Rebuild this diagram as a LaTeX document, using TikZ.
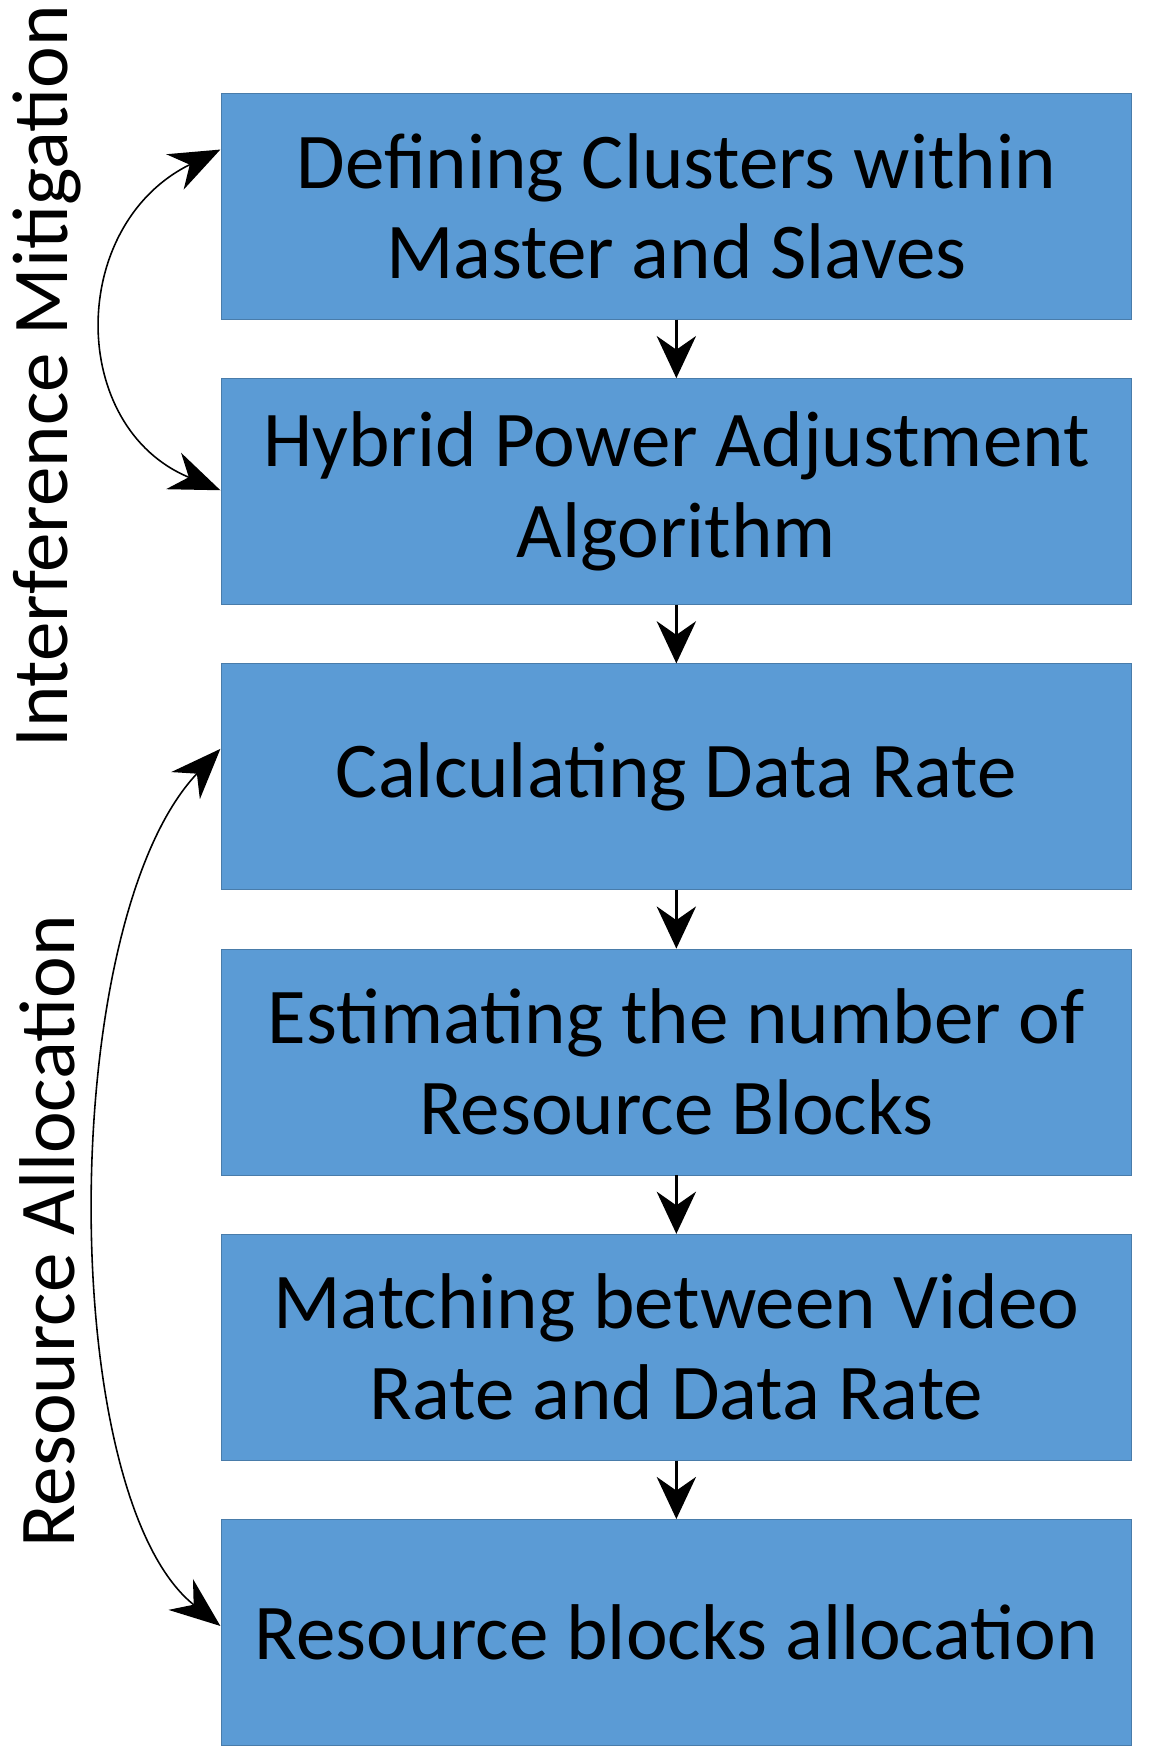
\documentclass[tikz,border=0pt]{standalone}
\usepackage{fontspec}
\setmainfont{Carlito}
\usetikzlibrary{positioning}
\usetikzlibrary{arrows.meta}
\definecolor{stepblue}{HTML}{5B9BD5}
\tikzset {
  stepbox/.style = {
    draw = stepblue!80!black,
    fill = stepblue,
    rectangle,
    minimum width = 16.18cm,
    minimum height = 4.02cm,
    align = center,
    font = \fontsize{40}{46}\selectfont,
    inner sep = 0
  },
  side/.style = {
    rotate = 90,
    font = \fontsize{40}{46}\selectfont
  },
  % straight arrow between steps
  arr/.style = {
    draw = black,
    very thick,
    -{Stealth[length=0.75cm,width=0.7cm]}
  },
  % curved double arrow for the groups
  grp/.style = {
    draw = black,
    thick,
    {Stealth[length=0.9cm,width=0.7cm]}-{Stealth[length=0.9cm,width=0.7cm]}
  },
  node distance = 1.04cm
}
\begin{document}
\begin{tikzpicture}[x=0.02cm,y=-0.02cm]
  \useasboundingbox (0,0) rectangle (1024,1567);
  \node[stepbox] (clusters) at (601.5,183.5) {Defining Clusters within\\Master and Slaves};
  \node[stepbox] (power) [below=of clusters] {Hybrid Power Adjustment\\Algorithm};
  \node[stepbox] (rate) [below=of power] {Calculating Data Rate};
  \node[stepbox] (blocks) [below=of rate] {Estimating the number of\\Resource Blocks};
  \node[stepbox] (match) [below=of blocks] {Matching between Video\\Rate and Data Rate};
  \node[stepbox] (alloc) [below=of match] {Resource blocks allocation};

  \node[side] (interf) at (42,335) {Interference Mitigation};
  \node[side] (resalloc) at (42,1095) {Resource Allocation};

  \draw[arr] (clusters) -- (power);
  \draw[arr] (power) -- (rate);
  \draw[arr] (rate) -- (blocks);
  \draw[arr] (blocks) -- (match);
  \draw[arr] (match) -- (alloc);

  \coordinate (c1) at (196,133);
  \coordinate (c2) at (196,436);
  \coordinate (c3) at (196,666);
  \coordinate (c4) at (196,1446);
  \draw[grp] (c1) .. controls (60,200) and (60,380) .. (c2);
  \draw[grp] (c3) .. controls (50,820) and (50,1330) .. (c4);
\end{tikzpicture}
\end{document}
